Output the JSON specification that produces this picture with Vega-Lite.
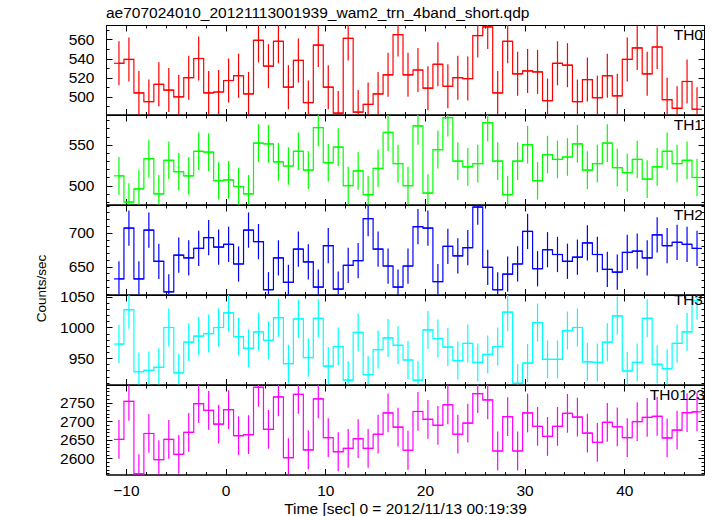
{
"$schema": "https://vega.github.io/schema/vega-lite/v6.json",
"padding": {"left": 34, "top": 5, "right": 5, "bottom": 5},
"background": "white",
"spacing": 0,
"bounds": "flush",
"title": {"text": "ae707024010_20121113001939_wam2_trn_4band_short.qdp", "anchor": "start", "frame": "group", "offset": 3.3, "fontSize": 15.5, "fontWeight": "normal", "font": "Liberation Sans", "color": "black"},
"config": {
  "view": {"stroke": null},
  "axis": {"domainColor": "black", "tickColor": "black", "labelColor": "black", "titleColor": "black", "labelFont": "Liberation Sans", "titleFont": "Liberation Sans", "labelFontSize": 15.5, "titleFontSize": 15.5, "titleFontWeight": "normal", "grid": false, "labelFlush": false, "labelOverlap": false, "domainWidth": 1, "tickWidth": 1, "format": "d"},
  "title": {"fontSize": 15.5, "fontWeight": "normal", "font": "Liberation Sans", "color": "black"},
  "point": {"size": 1, "clip": true}
},
"datasets": {"lc": [
{"t0":-11.2,"t":-10.7,"t1":-10.2,"a":535,"b":512,"c":632,"d":973,"s":2651,"ea":23,"eb":23,"ec":26,"ed":31,"es":52},
{"t0":-10.2,"t":-9.7,"t1":-9.2,"a":539,"b":480,"c":707,"d":1029,"s":2753,"ea":23,"eb":23,"ec":26,"ed":31,"es":52},
{"t0":-9.2,"t":-8.7,"t1":-8.2,"a":504,"b":496,"c":632,"d":928,"s":2559,"ea":23,"eb":23,"ec":26,"ed":31,"es":52},
{"t0":-8.2,"t":-7.7,"t1":-7.2,"a":495,"b":533,"c":704,"d":930,"s":2667,"ea":23,"eb":23,"ec":26,"ed":31,"es":52},
{"t0":-7.2,"t":-6.7,"t1":-6.2,"a":513,"b":490,"c":658,"d":935,"s":2597,"ea":23,"eb":23,"ec":26,"ed":31,"es":52},
{"t0":-6.2,"t":-5.7,"t1":-5.2,"a":507,"b":531,"c":613,"d":1000,"s":2651,"ea":23,"eb":23,"ec":26,"ed":31,"es":52},
{"t0":-5.2,"t":-4.7,"t1":-4.2,"a":500,"b":517,"c":667,"d":926,"s":2611,"ea":23,"eb":23,"ec":26,"ed":31,"es":52},
{"t0":-4.2,"t":-3.7,"t1":-3.2,"a":520,"b":512,"c":663,"d":976,"s":2670,"ea":23,"eb":23,"ec":26,"ed":31,"es":52},
{"t0":-3.2,"t":-2.7,"t1":-2.2,"a":540,"b":542,"c":677,"d":986,"s":2747,"ea":23,"eb":23,"ec":26,"ed":31,"es":52},
{"t0":-2.2,"t":-1.7,"t1":-1.2,"a":504,"b":541,"c":693,"d":990,"s":2729,"ea":23,"eb":23,"ec":26,"ed":31,"es":52},
{"t0":-1.2,"t":-0.7,"t1":-0.2,"a":505,"b":506,"c":679,"d":1000,"s":2692,"ea":23,"eb":23,"ec":26,"ed":31,"es":52},
{"t0":-0.2,"t":0.3,"t1":0.8,"a":517,"b":507,"c":683,"d":1024,"s":2731,"ea":23,"eb":23,"ec":26,"ed":31,"es":52},
{"t0":0.8,"t":1.3,"t1":1.8,"a":522,"b":499,"c":654,"d":985,"s":2661,"ea":23,"eb":23,"ec":26,"ed":31,"es":52},
{"t0":1.8,"t":2.3,"t1":2.8,"a":503,"b":490,"c":704,"d":966,"s":2664,"ea":23,"eb":23,"ec":26,"ed":31,"es":52},
{"t0":2.8,"t":3.3,"t1":3.8,"a":559,"b":552,"c":687,"d":993,"s":2791,"ea":23,"eb":23,"ec":26,"ed":31,"es":52},
{"t0":3.8,"t":4.3,"t1":4.8,"a":532,"b":551,"c":616,"d":979,"s":2678,"ea":23,"eb":23,"ec":26,"ed":31,"es":52},
{"t0":4.8,"t":5.3,"t1":5.8,"a":558,"b":529,"c":663,"d":1016,"s":2765,"ea":23,"eb":23,"ec":26,"ed":31,"es":52},
{"t0":5.8,"t":6.3,"t1":6.8,"a":510,"b":524,"c":627,"d":941,"s":2602,"ea":23,"eb":23,"ec":26,"ed":31,"es":52},
{"t0":6.8,"t":7.3,"t1":7.8,"a":538,"b":542,"c":676,"d":1014,"s":2772,"ea":23,"eb":23,"ec":26,"ed":31,"es":52},
{"t0":7.8,"t":8.3,"t1":8.8,"a":494,"b":519,"c":657,"d":951,"s":2623,"ea":23,"eb":23,"ec":26,"ed":31,"es":52},
{"t0":8.8,"t":9.3,"t1":9.8,"a":554,"b":571,"c":620,"d":1015,"s":2760,"ea":23,"eb":23,"ec":26,"ed":31,"es":52},
{"t0":9.8,"t":10.3,"t1":10.8,"a":510,"b":528,"c":681,"d":937,"s":2656,"ea":23,"eb":23,"ec":26,"ed":31,"es":52},
{"t0":10.8,"t":11.3,"t1":11.8,"a":483,"b":547,"c":617,"d":969,"s":2618,"ea":23,"eb":23,"ec":26,"ed":31,"es":52},
{"t0":11.8,"t":12.3,"t1":12.8,"a":561,"b":500,"c":652,"d":914,"s":2627,"ea":23,"eb":23,"ec":26,"ed":31,"es":52},
{"t0":12.8,"t":13.3,"t1":13.8,"a":484,"b":518,"c":659,"d":992,"s":2653,"ea":23,"eb":23,"ec":26,"ed":31,"es":52},
{"t0":13.8,"t":14.3,"t1":14.8,"a":492,"b":489,"c":721,"d":923,"s":2627,"ea":23,"eb":23,"ec":26,"ed":31,"es":52},
{"t0":14.8,"t":15.3,"t1":15.8,"a":503,"b":521,"c":676,"d":964,"s":2665,"ea":23,"eb":23,"ec":26,"ed":31,"es":52},
{"t0":15.8,"t":16.3,"t1":16.8,"a":523,"b":565,"c":651,"d":983,"s":2722,"ea":23,"eb":23,"ec":26,"ed":31,"es":52},
{"t0":16.8,"t":17.3,"t1":17.8,"a":565,"b":527,"c":620,"d":971,"s":2684,"ea":23,"eb":23,"ec":26,"ed":31,"es":52},
{"t0":17.8,"t":18.3,"t1":18.8,"a":523,"b":500,"c":651,"d":947,"s":2622,"ea":23,"eb":23,"ec":26,"ed":31,"es":52},
{"t0":18.8,"t":19.3,"t1":19.8,"a":528,"b":573,"c":709,"d":914,"s":2726,"ea":23,"eb":23,"ec":26,"ed":31,"es":52},
{"t0":19.8,"t":20.3,"t1":20.8,"a":509,"b":491,"c":707,"d":996,"s":2705,"ea":23,"eb":23,"ec":26,"ed":31,"es":52},
{"t0":20.8,"t":21.3,"t1":21.8,"a":534,"b":544,"c":628,"d":982,"s":2689,"ea":23,"eb":23,"ec":26,"ed":31,"es":52},
{"t0":21.8,"t":22.3,"t1":22.8,"a":511,"b":583,"c":680,"d":968,"s":2744,"ea":23,"eb":23,"ec":26,"ed":31,"es":52},
{"t0":22.8,"t":23.3,"t1":23.8,"a":520,"b":530,"c":666,"d":946,"s":2665,"ea":23,"eb":23,"ec":26,"ed":31,"es":52},
{"t0":23.8,"t":24.3,"t1":24.8,"a":519,"b":523,"c":678,"d":974,"s":2695,"ea":23,"eb":23,"ec":26,"ed":31,"es":52},
{"t0":24.8,"t":25.3,"t1":25.8,"a":564,"b":527,"c":738,"d":943,"s":2774,"ea":23,"eb":23,"ec":26,"ed":31,"es":52},
{"t0":25.8,"t":26.3,"t1":26.8,"a":573,"b":577,"c":649,"d":956,"s":2757,"ea":23,"eb":23,"ec":26,"ed":31,"es":52},
{"t0":26.8,"t":27.3,"t1":27.8,"a":504,"b":530,"c":616,"d":969,"s":2620,"ea":23,"eb":23,"ec":26,"ed":31,"es":52},
{"t0":27.8,"t":28.3,"t1":28.8,"a":558,"b":489,"c":639,"d":1025,"s":2712,"ea":23,"eb":23,"ec":26,"ed":31,"es":52},
{"t0":28.8,"t":29.3,"t1":29.8,"a":524,"b":530,"c":654,"d":909,"s":2620,"ea":23,"eb":23,"ec":26,"ed":31,"es":52},
{"t0":29.8,"t":30.3,"t1":30.8,"a":527,"b":550,"c":702,"d":942,"s":2722,"ea":23,"eb":23,"ec":26,"ed":31,"es":52},
{"t0":30.8,"t":31.3,"t1":31.8,"a":526,"b":506,"c":647,"d":1008,"s":2686,"ea":23,"eb":23,"ec":26,"ed":31,"es":52},
{"t0":31.8,"t":32.3,"t1":32.8,"a":496,"b":538,"c":675,"d":948,"s":2659,"ea":23,"eb":23,"ec":26,"ed":31,"es":52},
{"t0":32.8,"t":33.3,"t1":33.8,"a":535,"b":532,"c":668,"d":948,"s":2686,"ea":23,"eb":23,"ec":26,"ed":31,"es":52},
{"t0":33.8,"t":34.3,"t1":34.8,"a":533,"b":535,"c":658,"d":995,"s":2721,"ea":23,"eb":23,"ec":26,"ed":31,"es":52},
{"t0":34.8,"t":35.3,"t1":35.8,"a":495,"b":551,"c":664,"d":1000,"s":2711,"ea":23,"eb":23,"ec":26,"ed":31,"es":52},
{"t0":35.8,"t":36.3,"t1":36.8,"a":518,"b":519,"c":685,"d":944,"s":2668,"ea":23,"eb":23,"ec":26,"ed":31,"es":52},
{"t0":36.8,"t":37.3,"t1":37.8,"a":499,"b":527,"c":668,"d":943,"s":2643,"ea":23,"eb":23,"ec":26,"ed":31,"es":52},
{"t0":37.8,"t":38.3,"t1":38.8,"a":522,"b":552,"c":646,"d":976,"s":2697,"ea":23,"eb":23,"ec":26,"ed":31,"es":52},
{"t0":38.8,"t":39.3,"t1":39.8,"a":501,"b":522,"c":642,"d":1019,"s":2685,"ea":23,"eb":23,"ec":26,"ed":31,"es":52},
{"t0":39.8,"t":40.3,"t1":40.8,"a":539,"b":516,"c":671,"d":929,"s":2656,"ea":23,"eb":23,"ec":26,"ed":31,"es":52},
{"t0":40.8,"t":41.3,"t1":41.8,"a":551,"b":532,"c":673,"d":943,"s":2699,"ea":23,"eb":23,"ec":26,"ed":31,"es":52},
{"t0":41.8,"t":42.3,"t1":42.8,"a":524,"b":508,"c":663,"d":1015,"s":2710,"ea":23,"eb":23,"ec":26,"ed":31,"es":52},
{"t0":42.8,"t":43.3,"t1":43.8,"a":552,"b":523,"c":697,"d":940,"s":2713,"ea":23,"eb":23,"ec":26,"ed":31,"es":52},
{"t0":43.8,"t":44.3,"t1":44.8,"a":497,"b":542,"c":681,"d":933,"s":2655,"ea":23,"eb":23,"ec":26,"ed":31,"es":52},
{"t0":44.8,"t":45.3,"t1":45.8,"a":488,"b":527,"c":686,"d":974,"s":2676,"ea":23,"eb":23,"ec":26,"ed":31,"es":52},
{"t0":45.8,"t":46.3,"t1":46.8,"a":516,"b":531,"c":683,"d":993,"s":2723,"ea":23,"eb":23,"ec":26,"ed":31,"es":52},
{"t0":46.8,"t":47.3,"t1":47.8,"a":487,"b":510,"c":677,"d":1044,"s":2725,"ea":23,"eb":23,"ec":26,"ed":31,"es":52}
]},
"data": {"name": "lc"},
"vconcat": [
{
 "width": 598, "height": 89.5,
 "title": {"text": "TH0", "anchor": "end", "frame": "group", "offset": -18.7, "dx": -1},
 "layer": [
  {"mark": {"type": "rule", "color": "#ff0000", "strokeWidth": 1.2},
   "encoding": {
    "x": {"field": "t0", "type": "quantitative", "scale": {"domain": [-12, 48], "nice": false, "zero": false}, "axis": {"orient": "bottom", "values": [-10,0,10,20,30,40], "tickSize": -6, "labels": false, "title": null}},
    "x2": {"field": "t1"},
    "y": {"field": "a", "type": "quantitative", "scale": {"domain": [481.5, 575], "nice": false, "zero": false, "clamp": true}, "axis": {"orient": "left", "values": [500,520,540,560], "tickSize": -6, "labelPadding": 18, "title": null}}}},
  {"mark": {"type": "line", "interpolate": "step", "color": "#ff0000", "strokeWidth": 1.2},
   "encoding": {
    "x": {"field": "t", "type": "quantitative", "axis": {"orient": "bottom", "values": [-12,-10,-8,-6,-4,-2,0,2,4,6,8,10,12,14,16,18,20,22,24,26,28,30,32,34,36,38,40,42,44,46,48], "tickSize": -3, "labels": false, "title": null}},
    "y": {"field": "a", "type": "quantitative", "axis": {"orient": "left", "values": [490,500,510,520,530,540,550,560,570], "tickSize": -3, "labels": false, "title": null}}}},
  {"mark": {"type": "errorbar", "color": "#ff0000", "thickness": 1.2},
   "encoding": {
    "x": {"field": "t", "type": "quantitative", "axis": null},
    "y": {"field": "a", "type": "quantitative", "axis": null},
    "yError": {"field": "ea"}}},
  {"mark": {"type": "point", "opacity": 0},
   "encoding": {
    "x": {"field": "t", "type": "quantitative", "axis": {"orient": "top", "values": [-10,0,10,20,30,40], "tickSize": -6, "labels": false, "title": null}},
    "y": {"field": "a", "type": "quantitative", "axis": {"orient": "right", "values": [500,520,540,560], "tickSize": -6, "labels": false, "title": null}}}},
  {"mark": {"type": "point", "opacity": 0},
   "encoding": {
    "x": {"field": "t", "type": "quantitative", "axis": {"orient": "top", "values": [-12,-10,-8,-6,-4,-2,0,2,4,6,8,10,12,14,16,18,20,22,24,26,28,30,32,34,36,38,40,42,44,46,48], "tickSize": -3, "labels": false, "title": null}},
    "y": {"field": "a", "type": "quantitative", "axis": {"orient": "right", "values": [490,500,510,520,530,540,550,560,570], "tickSize": -3, "labels": false, "title": null}}}}
 ],
 "resolve": {"axis": {"x": "independent", "y": "independent"}}
},
{
 "width": 598, "height": 89.5,
 "title": {"text": "TH1", "anchor": "end", "frame": "group", "offset": -18.7, "dx": -1},
 "layer": [
  {"mark": {"type": "rule", "color": "#00ff00", "strokeWidth": 1.2},
   "encoding": {
    "x": {"field": "t0", "type": "quantitative", "scale": {"domain": [-12, 48], "nice": false, "zero": false}, "axis": {"orient": "bottom", "values": [-10,0,10,20,30,40], "tickSize": -6, "labels": false, "title": null}},
    "x2": {"field": "t1"},
    "y": {"field": "b", "type": "quantitative", "scale": {"domain": [477, 586.3], "nice": false, "zero": false, "clamp": true}, "axis": {"orient": "left", "values": [500,550], "tickSize": -6, "labelPadding": 18, "title": null}}}},
  {"mark": {"type": "line", "interpolate": "step", "color": "#00ff00", "strokeWidth": 1.2},
   "encoding": {
    "x": {"field": "t", "type": "quantitative", "axis": {"orient": "bottom", "values": [-12,-10,-8,-6,-4,-2,0,2,4,6,8,10,12,14,16,18,20,22,24,26,28,30,32,34,36,38,40,42,44,46,48], "tickSize": -3, "labels": false, "title": null}},
    "y": {"field": "b", "type": "quantitative", "axis": {"orient": "left", "values": [480,490,500,510,520,530,540,550,560,570,580], "tickSize": -3, "labels": false, "title": null}}}},
  {"mark": {"type": "errorbar", "color": "#00ff00", "thickness": 1.2},
   "encoding": {
    "x": {"field": "t", "type": "quantitative", "axis": null},
    "y": {"field": "b", "type": "quantitative", "axis": null},
    "yError": {"field": "eb"}}},
  {"mark": {"type": "point", "opacity": 0},
   "encoding": {
    "x": {"field": "t", "type": "quantitative", "axis": {"orient": "top", "values": [-10,0,10,20,30,40], "tickSize": -6, "labels": false, "title": null}},
    "y": {"field": "b", "type": "quantitative", "axis": {"orient": "right", "values": [500,550], "tickSize": -6, "labels": false, "title": null}}}},
  {"mark": {"type": "point", "opacity": 0},
   "encoding": {
    "x": {"field": "t", "type": "quantitative", "axis": {"orient": "top", "values": [-12,-10,-8,-6,-4,-2,0,2,4,6,8,10,12,14,16,18,20,22,24,26,28,30,32,34,36,38,40,42,44,46,48], "tickSize": -3, "labels": false, "title": null}},
    "y": {"field": "b", "type": "quantitative", "axis": {"orient": "right", "values": [480,490,500,510,520,530,540,550,560,570,580], "tickSize": -3, "labels": false, "title": null}}}}
 ],
 "resolve": {"axis": {"x": "independent", "y": "independent"}}
},
{
 "width": 598, "height": 89.5,
 "title": {"text": "TH2", "anchor": "end", "frame": "group", "offset": -18.7, "dx": -1},
 "layer": [
  {"mark": {"type": "rule", "color": "#0000ff", "strokeWidth": 1.2},
   "encoding": {
    "x": {"field": "t0", "type": "quantitative", "scale": {"domain": [-12, 48], "nice": false, "zero": false}, "axis": {"orient": "bottom", "values": [-10,0,10,20,30,40], "tickSize": -6, "labels": false, "title": null}},
    "x2": {"field": "t1"},
    "y": {"field": "c", "type": "quantitative", "scale": {"domain": [609, 741], "nice": false, "zero": false, "clamp": true}, "axis": {"orient": "left", "values": [650,700], "tickSize": -6, "labelPadding": 18, "title": "Counts/sec", "titleFontSize": 13.5, "titleX": -61, "titleY": 83, "titleAngle": 270, "titleAlign": "center", "titleBaseline": "alphabetic"}}}},
  {"mark": {"type": "line", "interpolate": "step", "color": "#0000ff", "strokeWidth": 1.2},
   "encoding": {
    "x": {"field": "t", "type": "quantitative", "axis": {"orient": "bottom", "values": [-12,-10,-8,-6,-4,-2,0,2,4,6,8,10,12,14,16,18,20,22,24,26,28,30,32,34,36,38,40,42,44,46,48], "tickSize": -3, "labels": false, "title": null}},
    "y": {"field": "c", "type": "quantitative", "axis": {"orient": "left", "values": [610,620,630,640,650,660,670,680,690,700,710,720,730,740], "tickSize": -3, "labels": false, "title": null}}}},
  {"mark": {"type": "errorbar", "color": "#0000ff", "thickness": 1.2},
   "encoding": {
    "x": {"field": "t", "type": "quantitative", "axis": null},
    "y": {"field": "c", "type": "quantitative", "axis": null},
    "yError": {"field": "ec"}}},
  {"mark": {"type": "point", "opacity": 0},
   "encoding": {
    "x": {"field": "t", "type": "quantitative", "axis": {"orient": "top", "values": [-10,0,10,20,30,40], "tickSize": -6, "labels": false, "title": null}},
    "y": {"field": "c", "type": "quantitative", "axis": {"orient": "right", "values": [650,700], "tickSize": -6, "labels": false, "title": null}}}},
  {"mark": {"type": "point", "opacity": 0},
   "encoding": {
    "x": {"field": "t", "type": "quantitative", "axis": {"orient": "top", "values": [-12,-10,-8,-6,-4,-2,0,2,4,6,8,10,12,14,16,18,20,22,24,26,28,30,32,34,36,38,40,42,44,46,48], "tickSize": -3, "labels": false, "title": null}},
    "y": {"field": "c", "type": "quantitative", "axis": {"orient": "right", "values": [610,620,630,640,650,660,670,680,690,700,710,720,730,740], "tickSize": -3, "labels": false, "title": null}}}}
 ],
 "resolve": {"axis": {"x": "independent", "y": "independent"}}
},
{
 "width": 598, "height": 89.5,
 "title": {"text": "TH3", "anchor": "end", "frame": "group", "offset": -18.7, "dx": -1},
 "layer": [
  {"mark": {"type": "rule", "color": "#00ffff", "strokeWidth": 1.2},
   "encoding": {
    "x": {"field": "t0", "type": "quantitative", "scale": {"domain": [-12, 48], "nice": false, "zero": false}, "axis": {"orient": "bottom", "values": [-10,0,10,20,30,40], "tickSize": -6, "labels": false, "title": null}},
    "x2": {"field": "t1"},
    "y": {"field": "d", "type": "quantitative", "scale": {"domain": [907, 1053], "nice": false, "zero": false, "clamp": true}, "axis": {"orient": "left", "values": [950,1000,1050], "tickSize": -6, "labelPadding": 18, "title": null}}}},
  {"mark": {"type": "line", "interpolate": "step", "color": "#00ffff", "strokeWidth": 1.2},
   "encoding": {
    "x": {"field": "t", "type": "quantitative", "axis": {"orient": "bottom", "values": [-12,-10,-8,-6,-4,-2,0,2,4,6,8,10,12,14,16,18,20,22,24,26,28,30,32,34,36,38,40,42,44,46,48], "tickSize": -3, "labels": false, "title": null}},
    "y": {"field": "d", "type": "quantitative", "axis": {"orient": "left", "values": [910,920,930,940,950,960,970,980,990,1000,1010,1020,1030,1040,1050], "tickSize": -3, "labels": false, "title": null}}}},
  {"mark": {"type": "errorbar", "color": "#00ffff", "thickness": 1.2},
   "encoding": {
    "x": {"field": "t", "type": "quantitative", "axis": null},
    "y": {"field": "d", "type": "quantitative", "axis": null},
    "yError": {"field": "ed"}}},
  {"mark": {"type": "point", "opacity": 0},
   "encoding": {
    "x": {"field": "t", "type": "quantitative", "axis": {"orient": "top", "values": [-10,0,10,20,30,40], "tickSize": -6, "labels": false, "title": null}},
    "y": {"field": "d", "type": "quantitative", "axis": {"orient": "right", "values": [950,1000,1050], "tickSize": -6, "labels": false, "title": null}}}},
  {"mark": {"type": "point", "opacity": 0},
   "encoding": {
    "x": {"field": "t", "type": "quantitative", "axis": {"orient": "top", "values": [-12,-10,-8,-6,-4,-2,0,2,4,6,8,10,12,14,16,18,20,22,24,26,28,30,32,34,36,38,40,42,44,46,48], "tickSize": -3, "labels": false, "title": null}},
    "y": {"field": "d", "type": "quantitative", "axis": {"orient": "right", "values": [910,920,930,940,950,960,970,980,990,1000,1010,1020,1030,1040,1050], "tickSize": -3, "labels": false, "title": null}}}}
 ],
 "resolve": {"axis": {"x": "independent", "y": "independent"}}
},
{
 "width": 598, "height": 89.5,
 "title": {"text": "TH0123", "anchor": "end", "frame": "group", "offset": -18.7, "dx": 1},
 "layer": [
  {"mark": {"type": "rule", "color": "#ff00ff", "strokeWidth": 1.2},
   "encoding": {
    "x": {"field": "t0", "type": "quantitative", "scale": {"domain": [-12, 48], "nice": false, "zero": false}, "axis": {"orient": "bottom", "values": [-10,0,10,20,30,40], "tickSize": -6, "labelPadding": 15, "title": "Time [sec] 0 = 2012/11/13 00:19:39", "titlePadding": 2}},
    "x2": {"field": "t1"},
    "y": {"field": "s", "type": "quantitative", "scale": {"domain": [2557, 2797], "nice": false, "zero": false, "clamp": true}, "axis": {"orient": "left", "values": [2600,2650,2700,2750], "tickSize": -6, "labelPadding": 18, "title": null}}}},
  {"mark": {"type": "line", "interpolate": "step", "color": "#ff00ff", "strokeWidth": 1.2},
   "encoding": {
    "x": {"field": "t", "type": "quantitative", "axis": {"orient": "bottom", "values": [-12,-10,-8,-6,-4,-2,0,2,4,6,8,10,12,14,16,18,20,22,24,26,28,30,32,34,36,38,40,42,44,46,48], "tickSize": -3, "labels": false, "title": null}},
    "y": {"field": "s", "type": "quantitative", "axis": {"orient": "left", "values": [2560,2570,2580,2590,2600,2610,2620,2630,2640,2650,2660,2670,2680,2690,2700,2710,2720,2730,2740,2750,2760,2770,2780,2790], "tickSize": -3, "labels": false, "title": null}}}},
  {"mark": {"type": "errorbar", "color": "#ff00ff", "thickness": 1.2},
   "encoding": {
    "x": {"field": "t", "type": "quantitative", "axis": null},
    "y": {"field": "s", "type": "quantitative", "axis": null},
    "yError": {"field": "es"}}},
  {"mark": {"type": "point", "opacity": 0},
   "encoding": {
    "x": {"field": "t", "type": "quantitative", "axis": {"orient": "top", "values": [-10,0,10,20,30,40], "tickSize": -6, "labels": false, "title": null}},
    "y": {"field": "s", "type": "quantitative", "axis": {"orient": "right", "values": [2600,2650,2700,2750], "tickSize": -6, "labels": false, "title": null}}}},
  {"mark": {"type": "point", "opacity": 0},
   "encoding": {
    "x": {"field": "t", "type": "quantitative", "axis": {"orient": "top", "values": [-12,-10,-8,-6,-4,-2,0,2,4,6,8,10,12,14,16,18,20,22,24,26,28,30,32,34,36,38,40,42,44,46,48], "tickSize": -3, "labels": false, "title": null}},
    "y": {"field": "s", "type": "quantitative", "axis": {"orient": "right", "values": [2560,2570,2580,2590,2600,2610,2620,2630,2640,2650,2660,2670,2680,2690,2700,2710,2720,2730,2740,2750,2760,2770,2780,2790], "tickSize": -3, "labels": false, "title": null}}}}
 ],
 "resolve": {"axis": {"x": "independent", "y": "independent"}}
}
]
}
